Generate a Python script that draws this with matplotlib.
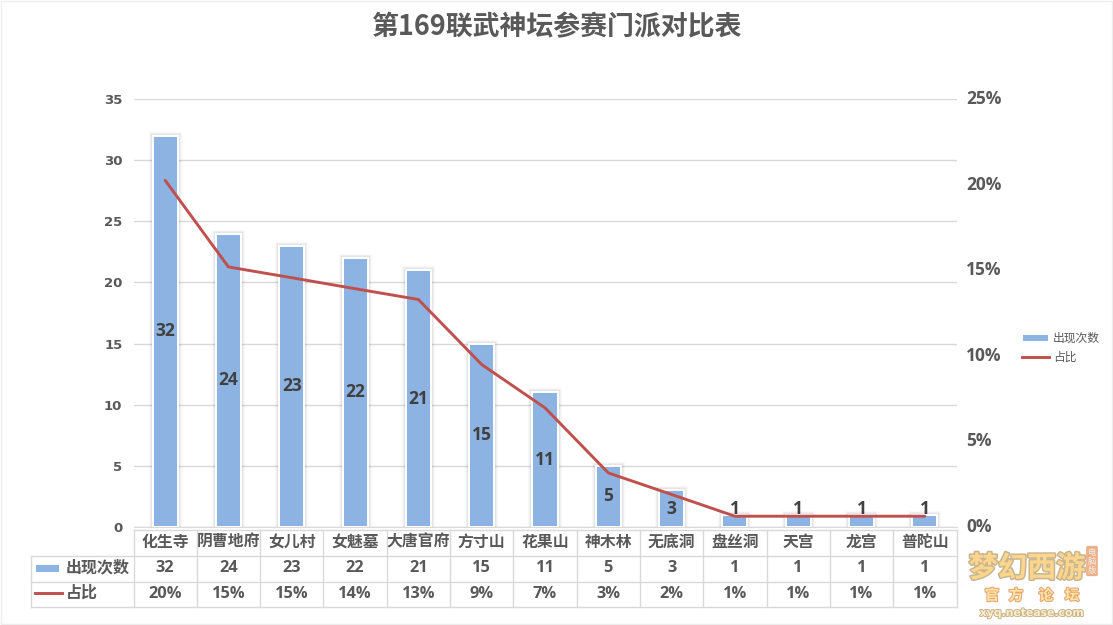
import matplotlib
matplotlib.use("Agg")
import matplotlib.pyplot as plt
import matplotlib.patheffects as pe
from matplotlib.lines import Line2D
from matplotlib.patches import Rectangle
from matplotlib.ticker import FuncFormatter, MultipleLocator

CJK = ['Noto Sans CJK SC', 'DejaVu Sans']
plt.rcParams['font.family'] = CJK

title = "第169联武神坛参赛门派对比表"
categories = ["化生寺", "阴曹地府", "女儿村", "女魅墓", "大唐官府", "方寸山", "花果山",
              "神木林", "无底洞", "盘丝洞", "天宫", "龙宫", "普陀山"]
counts = [32, 24, 23, 22, 21, 15, 11, 5, 3, 1, 1, 1, 1]
shares = [0.2025, 0.1519, 0.1456, 0.1392, 0.1329, 0.0949, 0.0696, 0.0316, 0.0190,
          0.0063, 0.0063, 0.0063, 0.0063]
share_labels = ["20%", "15%", "15%", "14%", "13%", "9%", "7%", "3%", "2%", "1%", "1%", "1%", "1%"]
series_names = ["出现次数", "占比"]

W, H = 1113, 625
BLUE, RED, GRID, TXT, DARK = "#8DB3E2", "#C0504D", "#D9D9D9", "#595959", "#404040"
fig = plt.figure(figsize=(W / 100, H / 100), dpi=100, facecolor="white")

# overlay in pixel coordinates for frame, table grid and keys
ov = fig.add_axes([0, 0, 1, 1], zorder=0)
ov.set_xlim(0, W); ov.set_ylim(H, 0); ov.axis("off")
ov.add_patch(Rectangle((0.5, 0.5), W - 1.5, H - 1.5, fill=False, ec="#EDEDED", lw=1))

L, R, T, B = 133.5, 956.5, 99, 527
ax = fig.add_axes([L / W, 1 - B / H, (R - L) / W, (B - T) / H], zorder=2)
ax.patch.set_alpha(0)
xs = list(range(len(categories)))
bars = ax.bar(xs, counts, width=0.395, color=BLUE, edgecolor="white", linewidth=1.45, zorder=3)
shadow = [pe.Stroke(linewidth=6, foreground="#000000", alpha=0.02),
          pe.Stroke(linewidth=4.5, foreground="#000000", alpha=0.03),
          pe.Stroke(linewidth=3.2, foreground="#000000", alpha=0.05),
          pe.Normal()]
for b in bars:
    b.set_path_effects(shadow)
ax.set_xlim(-0.5, len(categories) - 0.5)
ax.set_ylim(0, 35)
ax.yaxis.set_major_locator(MultipleLocator(5))
ax.grid(axis="y", color=GRID, lw=1, zorder=0)
ax.set_axisbelow(True)
for s in ax.spines.values():
    s.set_visible(False)
ax.spines["bottom"].set_visible(True)
ax.spines["bottom"].set_color(GRID)
ax.set_xticks([])
ax.tick_params(axis="y", length=0, pad=8)
for t in ax.get_yticklabels():
    t.set_fontfamily("DejaVu Sans"); t.set_fontweight("bold"); t.set_fontsize(9.5); t.set_color(TXT)

ax2 = ax.twinx()
ax2.patch.set_alpha(0)
ax2.plot(xs, shares, color=RED, lw=2.1, zorder=5, solid_capstyle="round")
ax2.set_ylim(0, 0.25)
ax2.yaxis.set_major_locator(MultipleLocator(0.05))
ax2.yaxis.set_major_formatter(FuncFormatter(lambda v, _: f"{v:.0%}"))
ax2.tick_params(axis="y", length=0, pad=7)
for s in ax2.spines.values():
    s.set_visible(False)
for t in ax2.get_yticklabels():
    t.set_fontfamily("Open Sans"); t.set_fontweight("bold"); t.set_fontsize(12.5); t.set_color(TXT)
    t.set_verticalalignment("center")

# data labels live on top of both axes
for x, v in zip(xs, counts):
    if v > 1:
        ax2.annotate(str(v), xy=(x, v / 2 / 35 * 0.25), ha="center", va="center", color=DARK,
                     fontsize=12.5, fontweight="bold", family="Open Sans", zorder=6)
    else:
        ax2.annotate(str(v), xy=(x, v / 35 * 0.25), xytext=(0, -2.5), textcoords="offset points",
                     ha="center", va="bottom", color=DARK, fontsize=12.5, fontweight="bold",
                     family="Open Sans", zorder=6)

fig.text(556.5 / W, 1 - 27.5 / H, title, ha="center", va="center", fontsize=19.4,
         fontweight="bold", color=TXT, family=CJK)

# data table
y0, y1, y2, y3 = 529.5, 555.5, 581.5, 606.5
tl = 30.5
col_w = (R - L) / len(categories)
for y, x_left in [(y0, L), (y1, tl), (y2, tl), (y3, tl)]:
    ov.add_line(Line2D([x_left, R], [y, y], color=GRID, lw=1))
ov.add_line(Line2D([tl, tl], [y1, y3], color=GRID, lw=1))
for i in range(len(categories) + 1):
    ov.add_line(Line2D([L + i * col_w] * 2, [y0, y3], color=GRID, lw=1))
for i, c in enumerate(categories):
    xc = L + (i + 0.5) * col_w
    ov.text(xc, (y0 + y1) / 2 - 1, c, ha="center", va="center", fontsize=11.4, color=TXT,
            fontweight="bold", family=CJK)
    ov.text(xc, (y1 + y2) / 2, str(counts[i]), ha="center", va="center", fontsize=11.8,
            color=TXT, fontweight="bold", family="Open Sans")
    ov.text(xc, (y2 + y3) / 2, share_labels[i], ha="center", va="center", fontsize=11.8,
            color=TXT, fontweight="bold", family="Open Sans")
ov.add_patch(Rectangle((36, 565), 23, 7, fc=BLUE, ec="none"))
ov.add_line(Line2D([35, 62], [593, 593], color=RED, lw=2.1))
ov.text(66, (y1 + y2) / 2 - 1, series_names[0], ha="left", va="center", fontsize=11.5, color=TXT, family=CJK, fontweight="bold")
ov.text(66, (y2 + y3) / 2 - 1, series_names[1], ha="left", va="center", fontsize=11.5, color=TXT, family=CJK, fontweight="bold")

# legend
ov.add_patch(Rectangle((1023, 335), 25, 6, fc=BLUE, ec="none"))
ov.add_line(Line2D([1022, 1049], [357, 357], color=RED, lw=2.1))
ov.text(1053, 338, series_names[0], ha="left", va="center", fontsize=8.5, color=TXT, family=CJK)
ov.text(1053, 357, series_names[1], ha="left", va="center", fontsize=8.5, color=TXT, family=CJK)

# watermark
halo = [pe.withStroke(linewidth=2.2, foreground="#C9B58F")]
ov.text(1027, 568, "梦幻西游", ha="center", va="center", fontsize=21, fontweight="bold",
        color="#FBD68C", family=CJK, path_effects=halo, zorder=4)
ov.text(1092, 561, "电\n脑\n版", ha="center", va="center", fontsize=6, linespacing=1.0,
        color="#F3F0E6", family=CJK, zorder=4,
        bbox=dict(boxstyle="round,pad=0.2", fc="#EDB08A", ec="none"))
for xc, ch in zip([992, 1016, 1046, 1072], "官方论坛"):
    ov.text(xc, 595, ch, ha="center", va="center", fontsize=10.5, fontweight="bold",
            color="#FBE6A8", family=CJK, zorder=4,
            path_effects=[pe.withStroke(linewidth=1.5, foreground="#E8A36E")])
ov.text(1032, 613, "xyq.netease.com", ha="center", va="center", fontsize=7.8, fontweight="bold",
        color="#FBEFD0", family="DejaVu Sans", zorder=4,
        path_effects=[pe.withStroke(linewidth=1.4, foreground="#C9B48A")])

fig.savefig("out.png", dpi=100, facecolor="white")
